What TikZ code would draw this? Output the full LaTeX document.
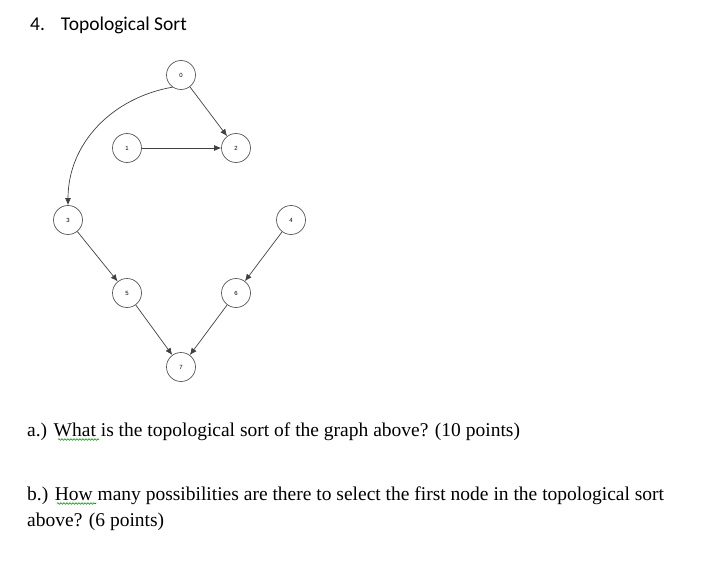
\documentclass[tikz,border=0pt]{standalone}
\usepackage{fontspec}
\setmainfont{Liberation Serif}
\newfontfamily\titlefont{Carlito}
\newfontfamily\labelfont{Liberation Sans}
\usetikzlibrary{arrows.meta,decorations.pathmorphing}

\tikzset{
    vertex/.style = {circle, draw = black!65, line width = 0.7pt, minimum size = 29pt, inner sep = 0pt, font = \labelfont\fontsize{6}{7}\selectfont},
    edge/.style = {-{Latex[length = 7pt, width = 6pt]}, black!75, line width = 0.7pt},
    question/.style = {anchor = base west, inner sep = 0pt, font = \fontsize{19.5}{23}\selectfont},
    spell/.style = {draw = green!55!black, line width = 0.6pt, decorate, decoration = {snake, amplitude = 0.8pt, segment length = 3pt}}
}

\begin{document}
\begin{tikzpicture}[x = 1pt, y = -1pt]
        \useasboundingbox (0,0) rectangle (719,564);

        \node[anchor = west, inner sep = 0pt, font = \titlefont\fontsize{19.5}{23}\selectfont] (title) at (30,25) {4.\hspace{16pt}Topological Sort};

        \node[vertex] (0) at (181,75)  {0};
        \node[vertex] (1) at (127,148) {1};
        \node[vertex] (2) at (236,148) {2};
        \node[vertex] (3) at (68,220)  {3};
        \node[vertex] (4) at (291,220) {4};
        \node[vertex] (5) at (127,293) {5};
        \node[vertex] (6) at (236,293) {6};
        \node[vertex] (7) at (181,367) {7};

        \draw[edge] (0) -- (2);
        \draw[edge] (1) -- (2);
        \draw[edge] (0.235) to[out = 190, in = 90] (3.north);
        \draw[edge] (3) -- (5);
        \draw[edge] (4) -- (6);
        \draw[edge] (5) -- (7);
        \draw[edge] (6) -- (7);

        \node[question] (qa) at (27,436) {a.) What is the topological sort of the graph above? (10 points)};
        \node[question] (qb) at (27,500) {b.) How many possibilities are there to select the first node in the topological sort};
        \node[question] (qc) at (27,526) {above? (6 points)};

        % spell check marks
        \draw[spell] (58,439.5) -- (99,439.5);
        \draw[spell] (57,503.5) -- (96,503.5);
\end{tikzpicture}
\end{document}
